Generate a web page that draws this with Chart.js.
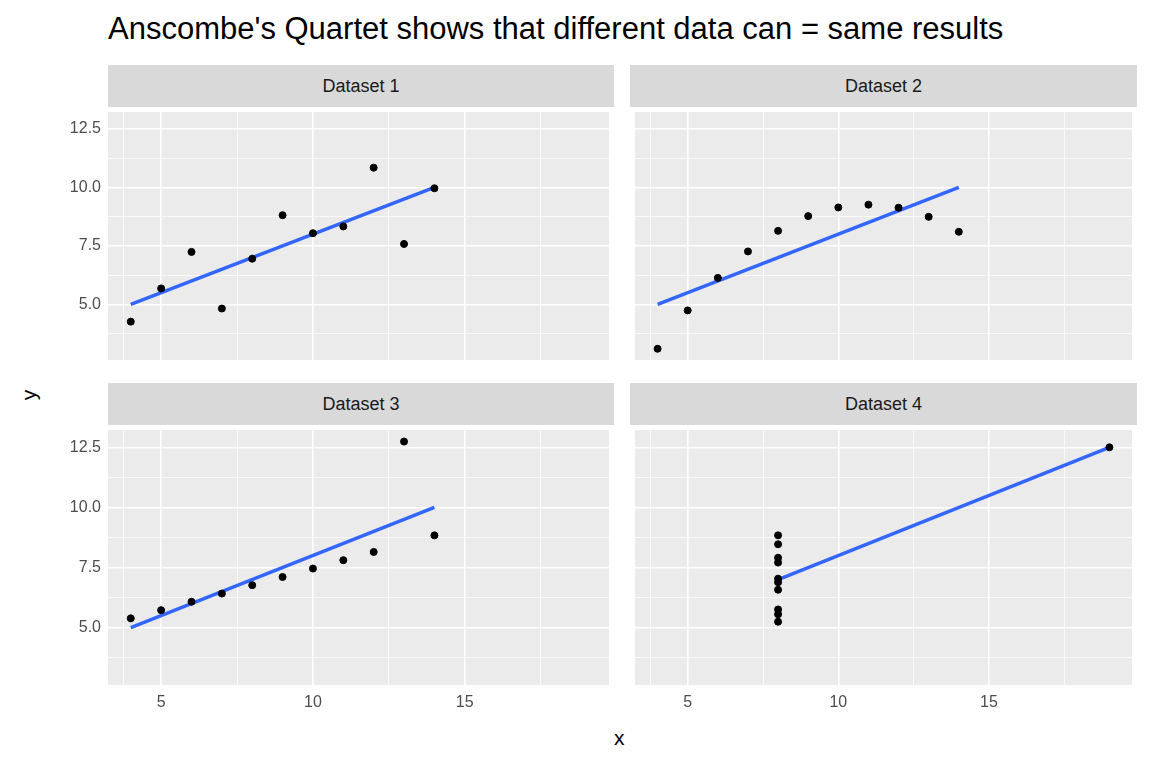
<!DOCTYPE html>
<html>
<head>
<meta charset="UTF-8">
<script src="https://cdn.jsdelivr.net/npm/chart.js"></script>
<style>
  body { margin:0; width:1152px; height:768px; background:#fff; font-family:"Liberation Sans", Arial, sans-serif; position:relative; overflow:hidden; }
  .abs { position:absolute; }
  .strip { position:absolute; background:#D9D9D9; color:#1A1A1A; font-size:18px; display:flex; align-items:center; justify-content:center; }
</style>
</head>
<body>
<div class="abs" style="left:108px;top:11px;font-size:31px;color:#000;white-space:nowrap;">Anscombe's Quartet shows that different data can = same results</div>
<div class="abs" style="left:24px;top:383px;font-size:21px;transform:rotate(-90deg);">y</div>
<div class="abs" style="left:614px;top:726px;font-size:21px;">x</div>
<div class="strip" style="left:108px;top:65px;width:506px;height:42px;">Dataset 1</div>
<div class="strip" style="left:630px;top:65px;width:507px;height:42px;">Dataset 2</div>
<div class="strip" style="left:108px;top:383px;width:506px;height:42px;">Dataset 3</div>
<div class="strip" style="left:630px;top:383px;width:507px;height:42px;">Dataset 4</div>
<div class="abs" style="left:50px;top:107px;width:564px;height:258px;"><canvas id="c1"></canvas></div>
<div class="abs" style="left:630px;top:107px;width:507px;height:258px;"><canvas id="c2"></canvas></div>
<div class="abs" style="left:50px;top:425px;width:564px;height:290px;"><canvas id="c3"></canvas></div>
<div class="abs" style="left:630px;top:425px;width:507px;height:290px;"><canvas id="c4"></canvas></div>
<script>
const x123 = [10, 8, 13, 9, 11, 14, 6, 4, 12, 7, 5];
const y1 = [8.04, 6.95, 7.58, 8.81, 8.33, 9.96, 7.24, 4.26, 10.84, 4.82, 5.68];
const y2 = [9.14, 8.14, 8.74, 8.77, 9.26, 8.10, 6.13, 3.10, 9.13, 7.26, 4.74];
const y3 = [7.46, 6.77, 12.74, 7.11, 7.81, 8.84, 6.08, 5.39, 8.15, 6.42, 5.73];
const x4 = [8, 8, 8, 8, 8, 8, 8, 19, 8, 8, 8];
const y4 = [6.58, 5.76, 7.71, 8.84, 8.47, 7.04, 5.25, 12.50, 5.56, 7.91, 6.89];
// lm fit lines (y = 3 + 0.5x) over each dataset's x range
const fit123 = [{x: 4, y: 5}, {x: 14, y: 10}];
const fit4 = [{x: 8, y: 7}, {x: 19, y: 12.5}];
const xTicks = [3.75, 5, 7.5, 10, 12.5, 15, 17.5];
const yTicks = [3.75, 5, 6.25, 7.5, 8.75, 10, 11.25, 12.5];
const xMajor = [5, 10, 15];
const yMajor = [5, 7.5, 10, 12.5];

const bgPlugin = {
  id: 'bg',
  beforeDraw(chart) {
    const a = chart.chartArea, ctx = chart.ctx;
    ctx.save(); ctx.fillStyle = '#EBEBEB';
    ctx.fillRect(a.left, a.top, a.right - a.left, a.bottom - a.top);
    ctx.restore();
  }
};

function noPad(s) { s.paddingTop = 0; s.paddingBottom = 0; s.paddingLeft = 0; s.paddingRight = 0; }

function panel(id, xs, ys, fit, showY, showX) {
  const pts = xs.map((x, i) => ({x: x, y: ys[i]}));
  new Chart(document.getElementById(id), {
    type: 'scatter',
    data: { datasets: [
      { data: pts, backgroundColor: '#000', borderColor: '#000', pointRadius: 3.5 },
      { type: 'line', data: fit, borderColor: '#3366FF', borderWidth: 3.5, pointRadius: 0, fill: false }
    ]},
    options: {
      animation: false, responsive: true, maintainAspectRatio: false,
      layout: { padding: 0 },
      plugins: { legend: { display: false }, tooltip: { enabled: false } },
      scales: {
        x: {
          type: 'linear', min: 3.25, max: 19.75,
          afterBuildTicks: s => { s.ticks = xTicks.map(v => ({value: v})); },
          afterFit: s => { s.height = showX ? 30 : 0; noPad(s); },
          border: { display: false },
          grid: { color: '#fff', drawTicks: false, lineWidth: c => xMajor.includes(c.tick.value) ? 1.6 : 0.7 },
          ticks: { display: showX, color: '#4D4D4D', font: { size: 16, family: 'Liberation Sans' }, padding: 8,
                   callback: v => xMajor.includes(v) ? v : '' }
        },
        y: {
          min: 2.62, max: 13.22,
          afterBuildTicks: s => { s.ticks = yTicks.map(v => ({value: v})); },
          afterFit: s => { s.width = showY ? 58 : 0; noPad(s); },
          border: { display: false },
          grid: { color: '#fff', drawTicks: false, lineWidth: c => yMajor.includes(c.tick.value) ? 1.6 : 0.7 },
          ticks: { display: showY, color: '#4D4D4D', font: { size: 16, family: 'Liberation Sans' }, padding: 7,
                   callback: v => yMajor.includes(v) ? v.toFixed(1) : '' }
        }
      }
    },
    plugins: [bgPlugin]
  });
}
panel('c1', x123, y1, fit123, true, false);
panel('c2', x123, y2, fit123, false, false);
panel('c3', x123, y3, fit123, true, true);
panel('c4', x4, y4, fit4, false, true);
</script>
</body>
</html>
